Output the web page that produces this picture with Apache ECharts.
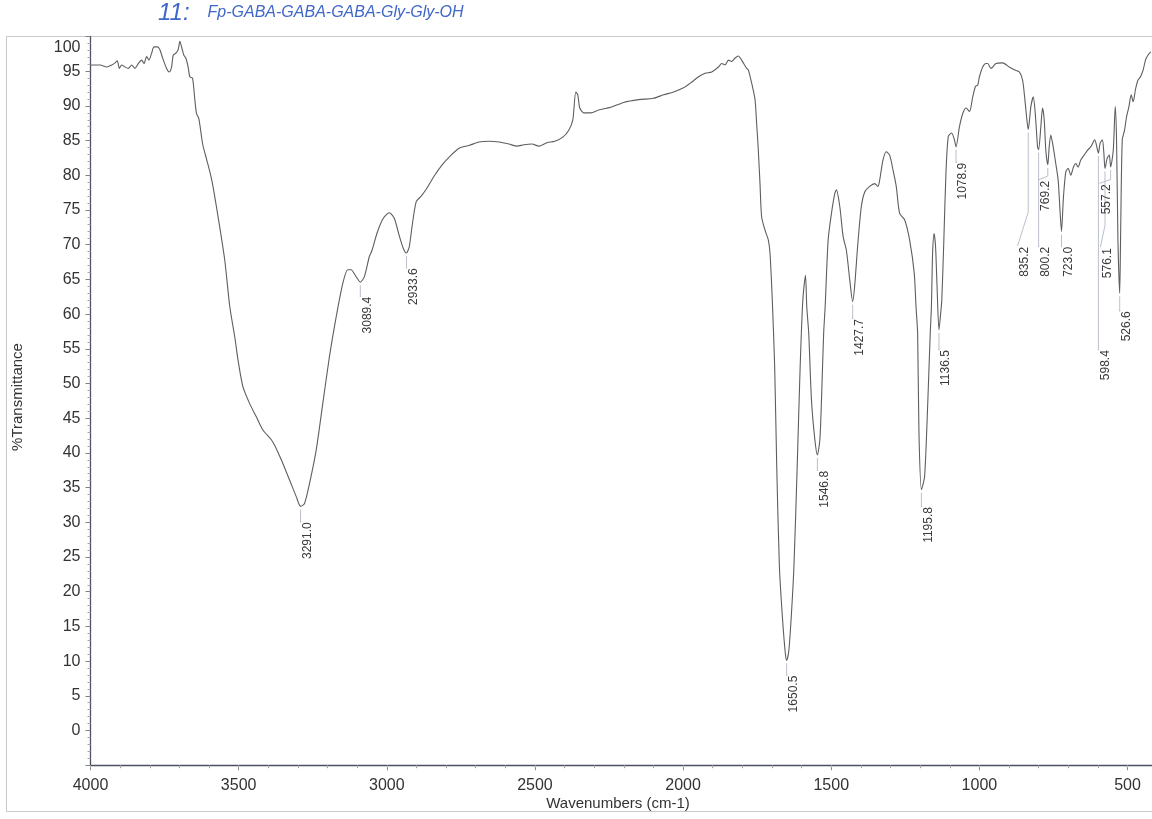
<!DOCTYPE html>
<html>
<head>
<meta charset="utf-8">
<title>FT-IR spectrum – Fp-GABA-GABA-GABA-Gly-Gly-OH</title>
<script src="https://cdn.jsdelivr.net/npm/echarts@6/dist/echarts.min.js"></script>
<style>
  html, body { margin: 0; padding: 0; background: #ffffff; }
  #chart { width: 1152px; height: 819px; }
</style>
</head>
<body>
<div id="chart"></div>
<script>
// Spectrum, 4000–2000 cm-1: [wavenumber (cm-1), %T]
const spectrumHigh = [
  [4000, 95.9], [3995.6, 95.9], [3967.7, 95.9], [3945.1, 95.6], [3928.3, 95.9],
  [3917.2, 96.2], [3909.5, 96.5], [3902.7, 95.4], [3894.6, 95.9], [3883.5, 95.6],
  [3872.4, 95.4], [3861.0, 95.9], [3849.9, 95.4], [3838.8, 96.1], [3827.3, 96.6],
  [3819.6, 96.1], [3810.5, 97.1], [3802.8, 96.6], [3793.7, 97.6], [3785.9, 98.5],
  [3774.8, 98.5], [3765.7, 98.1], [3756.6, 96.9], [3743.2, 95.4], [3734.4, 94.9],
  [3726.4, 95.6], [3720.9, 97.3], [3711.9, 97.6], [3704.1, 98.1], [3698.4, 99.3],
  [3692.7, 98.5], [3684.9, 97.3], [3678.2, 96.9], [3670.5, 95.6], [3664.8, 94.2],
  [3655.7, 94.0], [3647.9, 90.9], [3642.2, 88.9], [3634.5, 88.2], [3621.0, 84.4],
  [3607.5, 82.2], [3590.7, 79.3], [3570.5, 74.3], [3547.0, 67.8], [3530.0, 61.1],
  [3513.1, 56.7], [3502.2, 53.4], [3485.4, 49.5], [3462.8, 47.1], [3440.3, 45.2],
  [3418.0, 43.3], [3389.8, 41.9], [3378.7, 41.1], [3356.1, 39.0], [3328.2, 36.1],
  [3305.6, 33.7], [3291.0, 32.3], [3277.7, 32.7], [3260.8, 35.6], [3238.3, 40.4],
  [3216.1, 47.1], [3193.5, 53.9], [3170.9, 59.6], [3148.7, 64.4], [3131.9, 66.4],
  [3120.5, 66.4], [3103.7, 65.4], [3089.4, 64.6], [3075.7, 65.4], [3058.9, 68.3],
  [3049.8, 69.2], [3032.0, 71.8], [3011.8, 73.8], [2991.6, 74.6], [2974.8, 73.8],
  [2958.0, 71.3], [2944.5, 69.5], [2933.6, 68.8], [2924.3, 69.7], [2914.2, 72.8],
  [2900.7, 76.2], [2883.9, 77.0], [2863.7, 78.2], [2840.1, 79.9], [2813.2, 81.5],
  [2782.9, 82.9], [2756.0, 83.9], [2722.3, 84.3], [2688.7, 84.8], [2655.0, 84.9],
  [2621.4, 84.8], [2587.7, 84.5], [2560.8, 84.2], [2537.2, 84.4], [2510.3, 84.5],
  [2486.7, 84.2], [2459.8, 84.7], [2432.9, 84.9], [2406.0, 85.5], [2385.8, 86.5],
  [2372.3, 88.0], [2362.2, 92.0], [2355.5, 91.6], [2348.7, 89.7], [2335.3, 89.0],
  [2311.7, 89.0], [2284.8, 89.4], [2244.4, 89.8], [2200.6, 90.5], [2150.1, 90.9],
  [2099.6, 91.1], [2066.0, 91.6], [2032.3, 92.0], [1998.7, 92.6]
];

// Spectrum, 2000–400 cm-1 (amide and fingerprint region)
const spectrumFingerprint = [
  [1971.7, 93.4], [1948.2, 94.2], [1925.6, 94.7], [1903.4, 94.9], [1880.8, 95.6],
  [1869.7, 96.1], [1858.2, 95.9], [1847.1, 96.6], [1836.0, 96.4], [1824.6, 96.9],
  [1813.5, 97.2], [1802.4, 96.6], [1785.6, 95.4], [1779.9, 95.2], [1768.7, 93.3],
  [1757.3, 90.9], [1751.9, 87.5], [1746.2, 83.6], [1740.5, 78.8], [1735.0, 74.0],
  [1723.6, 72.1], [1712.5, 70.7], [1706.8, 68.8], [1699.0, 62.0], [1691.0, 52.4],
  [1684.0, 38.0], [1675.0, 23.6], [1665.0, 16.4], [1655.0, 11.1], [1650.5, 10.1],
  [1643.0, 11.6], [1635.0, 16.4], [1626.0, 23.6], [1615.0, 38.0], [1605.0, 52.4],
  [1596.0, 62.0], [1587.0, 65.6], [1582.7, 61.1], [1576.0, 57.2], [1566.8, 47.6],
  [1555.3, 41.9], [1546.8, 39.7], [1538.5, 41.9], [1533.0, 47.6], [1525.7, 57.2],
  [1520.6, 61.1], [1510.5, 70.7], [1499.4, 74.5], [1488.0, 77.4], [1482.6, 77.9],
  [1471.2, 75.5], [1460.1, 71.2], [1449.0, 69.2], [1437.5, 64.9], [1427.7, 61.8],
  [1421.3, 63.9], [1410.2, 70.2], [1398.5, 75.5], [1387.0, 77.6], [1370.3, 78.4],
  [1353.4, 78.8], [1342.3, 78.4], [1336.6, 79.3], [1325.5, 82.2], [1314.3, 83.4],
  [1302.9, 82.9], [1291.8, 80.8], [1280.7, 78.4], [1269.2, 74.5], [1252.4, 73.6],
  [1235.6, 70.7], [1220.0, 65.9], [1214.0, 61.1], [1208.5, 57.2], [1204.0, 42.8],
  [1195.8, 34.7], [1185.0, 36.6], [1174.0, 47.6], [1166.0, 57.2], [1162.0, 61.1],
  [1158.0, 68.8], [1153.0, 71.6], [1148.0, 69.7], [1143.0, 64.0], [1136.5, 57.7],
  [1131.0, 60.0], [1127.0, 62.0], [1120.0, 70.7], [1113.0, 80.3], [1105.0, 85.6],
  [1094.0, 86.1], [1085.0, 85.2], [1078.9, 84.1], [1067.3, 87.0], [1056.2, 88.9],
  [1045.0, 89.7], [1033.6, 89.2], [1022.5, 91.3], [1013.4, 92.8], [1005.7, 93.0],
  [1000.0, 94.2], [988.9, 95.6], [977.8, 96.1], [972.1, 96.1], [961.0, 95.4],
  [944.1, 96.1], [921.6, 96.2], [899.0, 95.6], [882.2, 95.2], [865.4, 94.9],
  [854.3, 93.7], [846.5, 90.9], [839.8, 88.0], [835.2, 86.6], [826.3, 89.9],
  [818.3, 91.3], [811.5, 88.9], [803.8, 84.1], [800.2, 83.7], [792.7, 87.0],
  [787.0, 89.7], [781.3, 88.0], [775.9, 83.6], [769.2, 81.5], [764.5, 84.1],
  [759.1, 85.8], [751.0, 84.1], [742.3, 81.7], [734.2, 79.3], [727.4, 74.5],
  [723.0, 71.9], [716.3, 76.9], [708.5, 80.5], [700.4, 81.0], [691.7, 80.0],
  [682.6, 81.2], [674.9, 81.7], [666.8, 81.2], [658.1, 82.2], [646.6, 82.9],
  [635.5, 83.6], [624.4, 84.1], [610.9, 85.1], [598.4, 83.2], [592.9, 84.6],
  [585.1, 85.1], [580.0, 83.2], [576.1, 81.0], [568.5, 82.5], [561.8, 82.9],
  [557.2, 81.2], [548.3, 83.6], [541.6, 89.9], [537.2, 85.1], [532.5, 70.7],
  [526.6, 63.0], [523.7, 70.7], [518.0, 85.1], [510.2, 86.5], [503.5, 88.4],
  [495.4, 89.9], [487.7, 91.6], [481.0, 90.6], [473.2, 92.4], [465.2, 93.7],
  [456.4, 94.2], [447.3, 95.2], [439.6, 96.6], [431.5, 97.3], [422.0, 97.8]
];

const xTickLabels = [4000, 3500, 3000, 2500, 2000, 1500, 1000, 500];

// Picked peaks (band minima)
const peakWavenumbers = [3291.0, 3089.4, 2933.6, 1650.5, 1546.8, 1427.7, 1195.8, 1136.5,
                         1078.9, 835.2, 800.2, 769.2, 723.0, 598.4, 576.1, 557.2, 526.6];
const peakTransmittance = [32.3, 64.6, 68.8, 10.1, 39.7, 61.8, 34.7, 57.7,
                           84.1, 86.6, 83.7, 81.5, 71.9, 83.2, 81.0, 81.2, 63.0];

// Where each peak label sits: [label wavenumber, label top %T, leader bend %T]
const peakLabelAnchors = [
  [3291.0, 30.0, 30.0], [3089.4, 62.5, 62.5], [2933.6, 66.6, 66.6], [1650.5, 7.9, 7.9],
  [1546.8, 37.4, 37.4], [1427.7, 59.3, 59.3], [1195.8, 32.2, 32.2], [1136.5, 54.8, 54.8],
  [1078.9, 81.8, 81.8], [871.0, 69.7, 74.7], [800.2, 69.7, 69.7], [800.4, 79.2, 79.9],
  [723.0, 69.7, 69.7], [598.4, 54.8, 54.8], [591.7, 69.5, 72.8], [595.1, 78.7, 79.4],
  [526.6, 60.4, 60.4]
];

const FONT = '"Liberation Sans", Arial, Helvetica, sans-serif';
const INK = '#333333';
const PEN = '#3f66c9';

const peakData = peakWavenumbers.map((wn, i) => [
  wn, peakTransmittance[i],
  peakLabelAnchors[i][0], peakLabelAnchors[i][1], peakLabelAnchors[i][2]
]);

const chart = echarts.init(document.getElementById('chart'), null, { renderer: 'canvas' });

chart.setOption({
  animation: false,
  backgroundColor: '#ffffff',
  grid: {
    left: 90.5, top: 36.5, width: 1066.7, height: 728.7,
    containLabel: false, outerBoundsMode: 'none'
  },
  xAxis: [
    {
      type: 'value', min: 400, max: 4000, inverse: true, position: 'bottom',
      axisLine: { show: true, onZero: false, lineStyle: { color: '#4b5162', width: 1.3 } },
      axisTick: { show: true, length: 5, customValues: xTickLabels,
                  lineStyle: { color: '#808080', width: 1 } },
      axisLabel: { show: true, customValues: xTickLabels, margin: 12,
                   color: INK, fontSize: 16, fontFamily: FONT,
                   formatter: v => String(v) },
      splitLine: { show: false }
    },
    {
      // minor ticks every 100 cm-1
      type: 'value', min: 400, max: 4000, interval: 100, inverse: true, position: 'bottom',
      axisLine: { show: false, onZero: false },
      axisTick: { show: true, length: 3, lineStyle: { color: '#a0a0a0', width: 1 } },
      axisLabel: { show: false },
      splitLine: { show: false }
    }
  ],
  yAxis: {
    type: 'value', min: -5, max: 100, interval: 5,
    axisLine: { show: true, onZero: false, lineStyle: { color: '#4b5162', width: 1.3 } },
    axisTick: { show: true, length: 5, lineStyle: { color: '#808080', width: 1 } },
    minorTick: { show: true, splitNumber: 5, length: 3, lineStyle: { color: '#a8a8a8', width: 1 } },
    axisLabel: {
      margin: 10, color: INK, fontSize: 16, fontFamily: FONT,
      formatter: v => v < 0 ? '' : (v === 100 ? '{top|100}' : String(v)),
      rich: { top: { padding: [22, 0, 0, 0], color: INK, fontSize: 16, fontFamily: FONT } }
    },
    splitLine: { show: false },
    minorSplitLine: { show: false }
  },
  series: [
    {
      name: 'spectrum',
      type: 'line',
      xAxisIndex: 0,
      data: spectrumHigh.concat(spectrumFingerprint),
      showSymbol: false,
      smooth: 0.25,
      lineStyle: { color: '#5e5e62', width: 1.1 },
      z: 3
    },
    {
      name: 'peak labels',
      type: 'custom',
      xAxisIndex: 0,
      data: peakData,
      clip: false,
      z: 4,
      renderItem(params, api) {
        const peak = api.coord([api.value(0), api.value(1)]);
        const bend = api.coord([api.value(0), api.value(4)]);
        const tip = api.coord([api.value(2), api.value(3)]);
        return {
          type: 'group',
          children: [
            {
              type: 'polyline',
              shape: { points: [[peak[0], peak[1] + 3], [bend[0], bend[1]], [tip[0], tip[1] - 1]] },
              style: { stroke: '#a9afbc', lineWidth: 0.8, fill: null }
            },
            {
              type: 'text',
              x: tip[0] + 1,
              y: tip[1],
              rotation: Math.PI / 2,
              style: {
                text: api.value(0).toFixed(1),
                fill: '#3a3a3a',
                fontSize: 12,
                fontFamily: FONT,
                align: 'right',
                verticalAlign: 'top'
              }
            }
          ]
        };
      }
    }
  ],
  graphic: [
    {
      type: 'rect', silent: true, z: 0,
      shape: { x: 6.5, y: 36.5, width: 1160, height: 775 },
      style: { fill: null, stroke: '#c9c9c9', lineWidth: 1 }
    },
    {
      type: 'text', left: 158, top: 1, z: 5,
      style: {
        text: '{n|11:}{t|Fp-GABA-GABA-GABA-Gly-Gly-OH}',
        rich: {
          n: { fontSize: 24, fontStyle: 'italic', fill: PEN, fontFamily: FONT, padding: [0, 18, 0, 0] },
          t: { fontSize: 16, fontStyle: 'italic', fill: PEN, fontFamily: FONT }
        }
      }
    },
    {
      type: 'text', x: 618, y: 804, z: 5,
      style: { text: 'Wavenumbers (cm-1)', fill: INK, fontSize: 15, fontFamily: FONT,
               align: 'center', verticalAlign: 'middle' }
    },
    {
      type: 'text', x: 18, y: 397, rotation: Math.PI / 2, z: 5,
      style: { text: '%Transmittance', fill: INK, fontSize: 15, fontFamily: FONT,
               align: 'center', verticalAlign: 'middle' }
    }
  ]
});
</script>
</body>
</html>
